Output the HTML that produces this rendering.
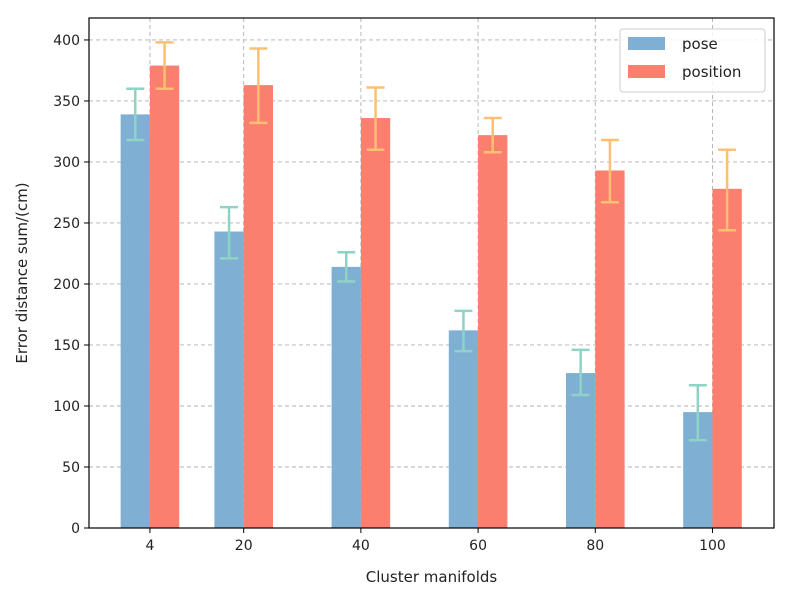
<!DOCTYPE html>
<html><head><meta charset="utf-8"><style>
body{margin:0;background:#fff}
svg{display:block;font-family:"DejaVu Sans","Liberation Sans",sans-serif}
</style></head><body>
<svg id="c" width="797" height="595" xmlns="http://www.w3.org/2000/svg"></svg>
<script>
const categories=[4,20,40,60,80,100];
const poseValues=[339,243,214,162,127,95];
const poseLow=[318,221,202,145,109,72];
const poseHigh=[360,263,226,178,146,117];
const positionValues=[379,363,336,322,293,278];
const positionLow=[360,332,310,308,267,244];
const positionHigh=[398,393,361,336,318,310];
const yTicks=[0,50,100,150,200,250,300,350,400];

const L=89,R=774,T=18,B=528;
const xMin=-6.4,xMax=110.5,yMin=0,yMax=418;
const X=v=>L+(v-xMin)/(xMax-xMin)*(R-L);
const Y=v=>B-(v-yMin)/(yMax-yMin)*(B-T);
const svg=document.getElementById('c');
const NS='http://www.w3.org/2000/svg';
function mk(tag,a,txt){const e=document.createElementNS(NS,tag);for(const k in a)e.setAttribute(k,a[k]);if(txt!==undefined)e.textContent=txt;svg.appendChild(e);return e;}

// grid
yTicks.forEach(t=>{
  const g=mk('line',{x1:L,x2:R,y1:Y(t),y2:Y(t),stroke:'#b0b0b0','stroke-dasharray':'4,3','stroke-width':0.9});
  
  
});
categories.forEach(c=>{
  const g=mk('line',{x1:X(c),x2:X(c),y1:T,y2:B,stroke:'#b0b0b0','stroke-dasharray':'4,3','stroke-width':0.9});
  
  
});
const bw=5;
function bars(vals,lo,hi,off,fill,ec,name){
  categories.forEach((c,i)=>{
    const x0=X(c+off-bw/2),x1=X(c+off+bw/2);
    const r=mk('rect',{x:x0,y:Y(vals[i]),width:x1-x0,height:Y(0)-Y(vals[i]),fill:fill});
    
    
    const cx=X(c+off);
    const e=mk('path',{d:`M${cx},${Y(lo[i])}V${Y(hi[i])}M${cx-9},${Y(lo[i])}H${cx+9}M${cx-9},${Y(hi[i])}H${cx+9}`,stroke:ec,'stroke-width':2.5,fill:'none'});
    
    
  });
}
bars(poseValues,poseLow,poseHigh,-2.5,'#7fb0d3','#8ed3c6','pose');
bars(positionValues,positionLow,positionHigh,2.5,'#fb7f6e','#fdbf74','position');

const fr=mk('rect',{x:L,y:T,width:R-L,height:B-T,fill:'none',stroke:'#000','stroke-width':1.2});



yTicks.forEach(t=>{
  mk('line',{x1:L-5,x2:L,y1:Y(t),y2:Y(t),stroke:'#000'});
  const tx=mk('text',{x:L-9,y:Y(t)+5,'text-anchor':'end','font-size':14,fill:'#222'},t);
  
  
});
categories.forEach(c=>{
  mk('line',{x1:X(c),x2:X(c),y1:B,y2:B+5,stroke:'#000'});
  const tx=mk('text',{x:X(c),y:B+22,'text-anchor':'middle','font-size':14,fill:'#222'},c);
  
  
});
const xt=mk('text',{x:(L+R)/2,y:582,'text-anchor':'middle','font-size':15,fill:'#222'},'Cluster manifolds');


const yt=mk('text',{x:0,y:0,transform:`translate(27,${(T+B)/2}) rotate(-90)`,'text-anchor':'middle','font-size':15,fill:'#222'},'Error distance sum/(cm)');



const lg=mk('rect',{x:620,y:29,width:145,height:63,rx:3,fill:'#fff','fill-opacity':0.85,stroke:'#ccc'});


[['pose','#7fb0d3',37],['position','#fb7f6e',65]].forEach(([n,c,y])=>{
  const p=mk('rect',{x:628,y:y,width:37,height:13,fill:c});
  
  
  const t=mk('text',{x:682,y:y+12,'font-size':15,fill:'#222'},n);
  
  
});
</script>
</body></html>
